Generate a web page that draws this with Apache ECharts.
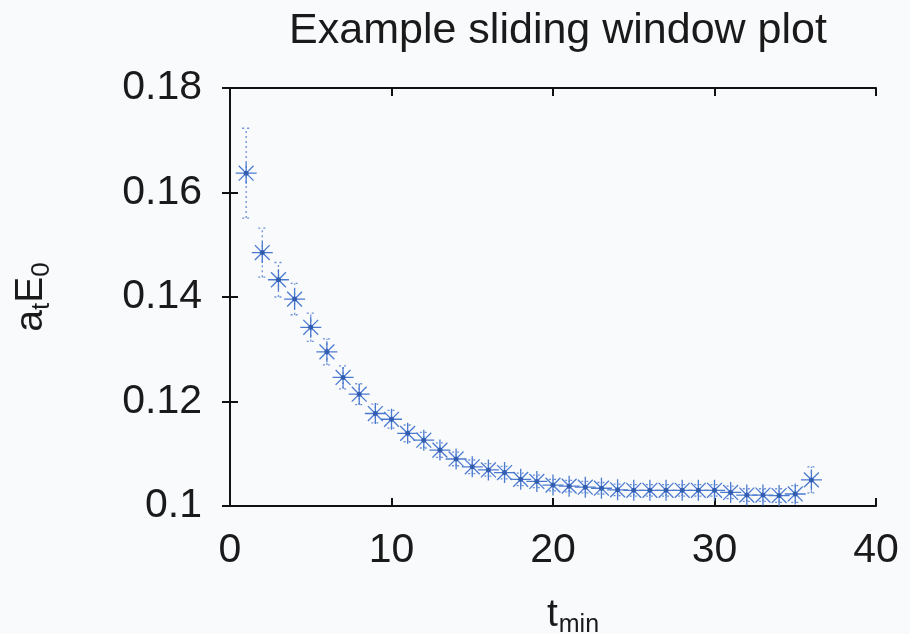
<!DOCTYPE html>
<html>
<head>
<meta charset="utf-8">
<script src="https://cdn.jsdelivr.net/npm/echarts@6/dist/echarts.min.js"></script>
<style>
html,body{margin:0;padding:0;background:#f9fafc;}
#chart{width:910px;height:634px;}
</style>
</head>
<body>
<div id="chart"></div>
<script>
var tmin = [1,2,3,4,5,6,7,8,9,10,11,12,13,14,15,16,17,18,19,20,21,22,23,24,25,26,27,28,29,30,31,32,33,34,35,36];
var energy = [0.1637,0.1485,0.1433,0.1396,0.1342,0.1295,0.1246,0.1214,0.1177,0.1166,0.1139,0.1126,0.1107,0.1090,0.1075,0.1069,0.1064,0.1051,0.1047,0.1040,0.1038,0.1036,0.1034,0.1031,0.1030,0.1030,0.1030,0.1030,0.1030,0.1030,0.1026,0.1021,0.1021,0.1020,0.1023,0.1050];
var errors = [0.0086,0.0047,0.0033,0.0030,0.0027,0.0025,0.0022,0.0020,0.0018,0.0017,0.0016,0.0015,0.0014,0.0013,0.0013,0.0012,0.0012,0.0012,0.0012,0.0011,0.0011,0.0011,0.0011,0.0011,0.0011,0.0011,0.0011,0.0011,0.0011,0.0011,0.0012,0.0012,0.0012,0.0013,0.0016,0.0025];
var xTicks = [0,10,20,30,40];
var yTicks = [0.1,0.12,0.14,0.16,0.18];

var blue = '#4a7ad0';
var pts = tmin.map(function(t,i){return [t, energy[i]];});
var errData = tmin.map(function(t,i){return [t, energy[i]-errors[i], energy[i]+errors[i]];});
var txt = '#1a1a1a';
var fnt = '"Liberation Sans", Arial, Helvetica, sans-serif';

var chart = echarts.init(document.getElementById('chart'), null, {renderer:'canvas'});
var axisCommon = {
  axisLine:{show:true, lineStyle:{color:'#111', width:2}},
  axisTick:{show:true, inside:true, length:8, lineStyle:{color:'#111', width:2}},
  splitLine:{show:false}
};
chart.setOption({
  backgroundColor:'#f9fafc',
  animation:false,
  title:{
    text:'Example sliding window plot', left:553, textAlign:'center', top:5,
    textStyle:{fontFamily:fnt, fontSize:43, fontWeight:'normal', color:txt}
  },
  grid:{left:230, right:34, top:88, bottom:128, containLabel:false, outerBoundsMode:'none'},
  xAxis:[
    Object.assign({type:'value', min:xTicks[0], max:xTicks[xTicks.length-1], interval:10, position:'bottom',
      name:'{a|t}{b|min}', nameLocation:'middle', nameGap:90,
      nameTextStyle:{padding:[0,0,0,40], rich:{
        a:{fontFamily:fnt, fontSize:39, color:txt, verticalAlign:'top', lineHeight:46},
        b:{fontFamily:fnt, fontSize:25, color:txt, verticalAlign:'top', padding:[17,0,0,1], lineHeight:29}
      }},
      axisLabel:{fontFamily:fnt, fontSize:41, color:txt, margin:24}}, axisCommon),
    Object.assign({type:'value', min:0, max:40, interval:10, position:'top', axisLabel:{show:false}}, axisCommon)
  ],
  yAxis:[
    Object.assign({type:'value', min:yTicks[0], max:yTicks[yTicks.length-1], interval:0.02, position:'left',
      name:'{a|a}{b|t}{a|E}{b|0}', nameLocation:'middle', nameGap:172, nameRotate:90,
      nameTextStyle:{rich:{
        a:{fontFamily:fnt, fontSize:39, color:txt, verticalAlign:'top', lineHeight:46},
        b:{fontFamily:fnt, fontSize:26, color:txt, verticalAlign:'top', padding:[17,0,0,0], lineHeight:30}
      }},
      axisLabel:{fontFamily:fnt, fontSize:41, color:txt, margin:28,
        formatter:function(v){return String(Math.round(v*100)/100);}}}, axisCommon),
    Object.assign({type:'value', min:0.1, max:0.18, interval:0.02, position:'right', axisLabel:{show:false}}, axisCommon)
  ],
  series:[
    {
      type:'custom',
      data:errData,
      z:1,
      renderItem:function(params, api){
        var x = api.value(0);
        var lo = api.coord([x, api.value(1)]);
        var hi = api.coord([x, api.value(2)]);
        var cap = 4;
        var st = {stroke:'#6a90d8', lineWidth:1.3, lineDash:[2,3]};
        return {type:'group', children:[
          {type:'line', shape:{x1:lo[0], y1:lo[1], x2:hi[0], y2:hi[1]}, style:st},
          {type:'line', shape:{x1:lo[0]-cap, y1:lo[1], x2:lo[0]+cap, y2:lo[1]}, style:st},
          {type:'line', shape:{x1:hi[0]-cap, y1:hi[1], x2:hi[0]+cap, y2:hi[1]}, style:st}
        ]};
      }
    },
    {
      type:'scatter',
      data:pts,
      z:2,
      symbol:'path://M0,-10L0,10M-10,0L10,0M-7.07,-7.07L7.07,7.07M-7.07,7.07L7.07,-7.07',
      symbolSize:21,
      itemStyle:{color:'rgba(0,0,0,0)', borderColor:blue, borderWidth:1.3, opacity:1}
    },
    {
      type:'scatter',
      data:pts,
      z:3,
      symbol:'circle',
      symbolSize:5,
      itemStyle:{color:'#2a55a8'}
    }
  ]
});
</script>
</body>
</html>
